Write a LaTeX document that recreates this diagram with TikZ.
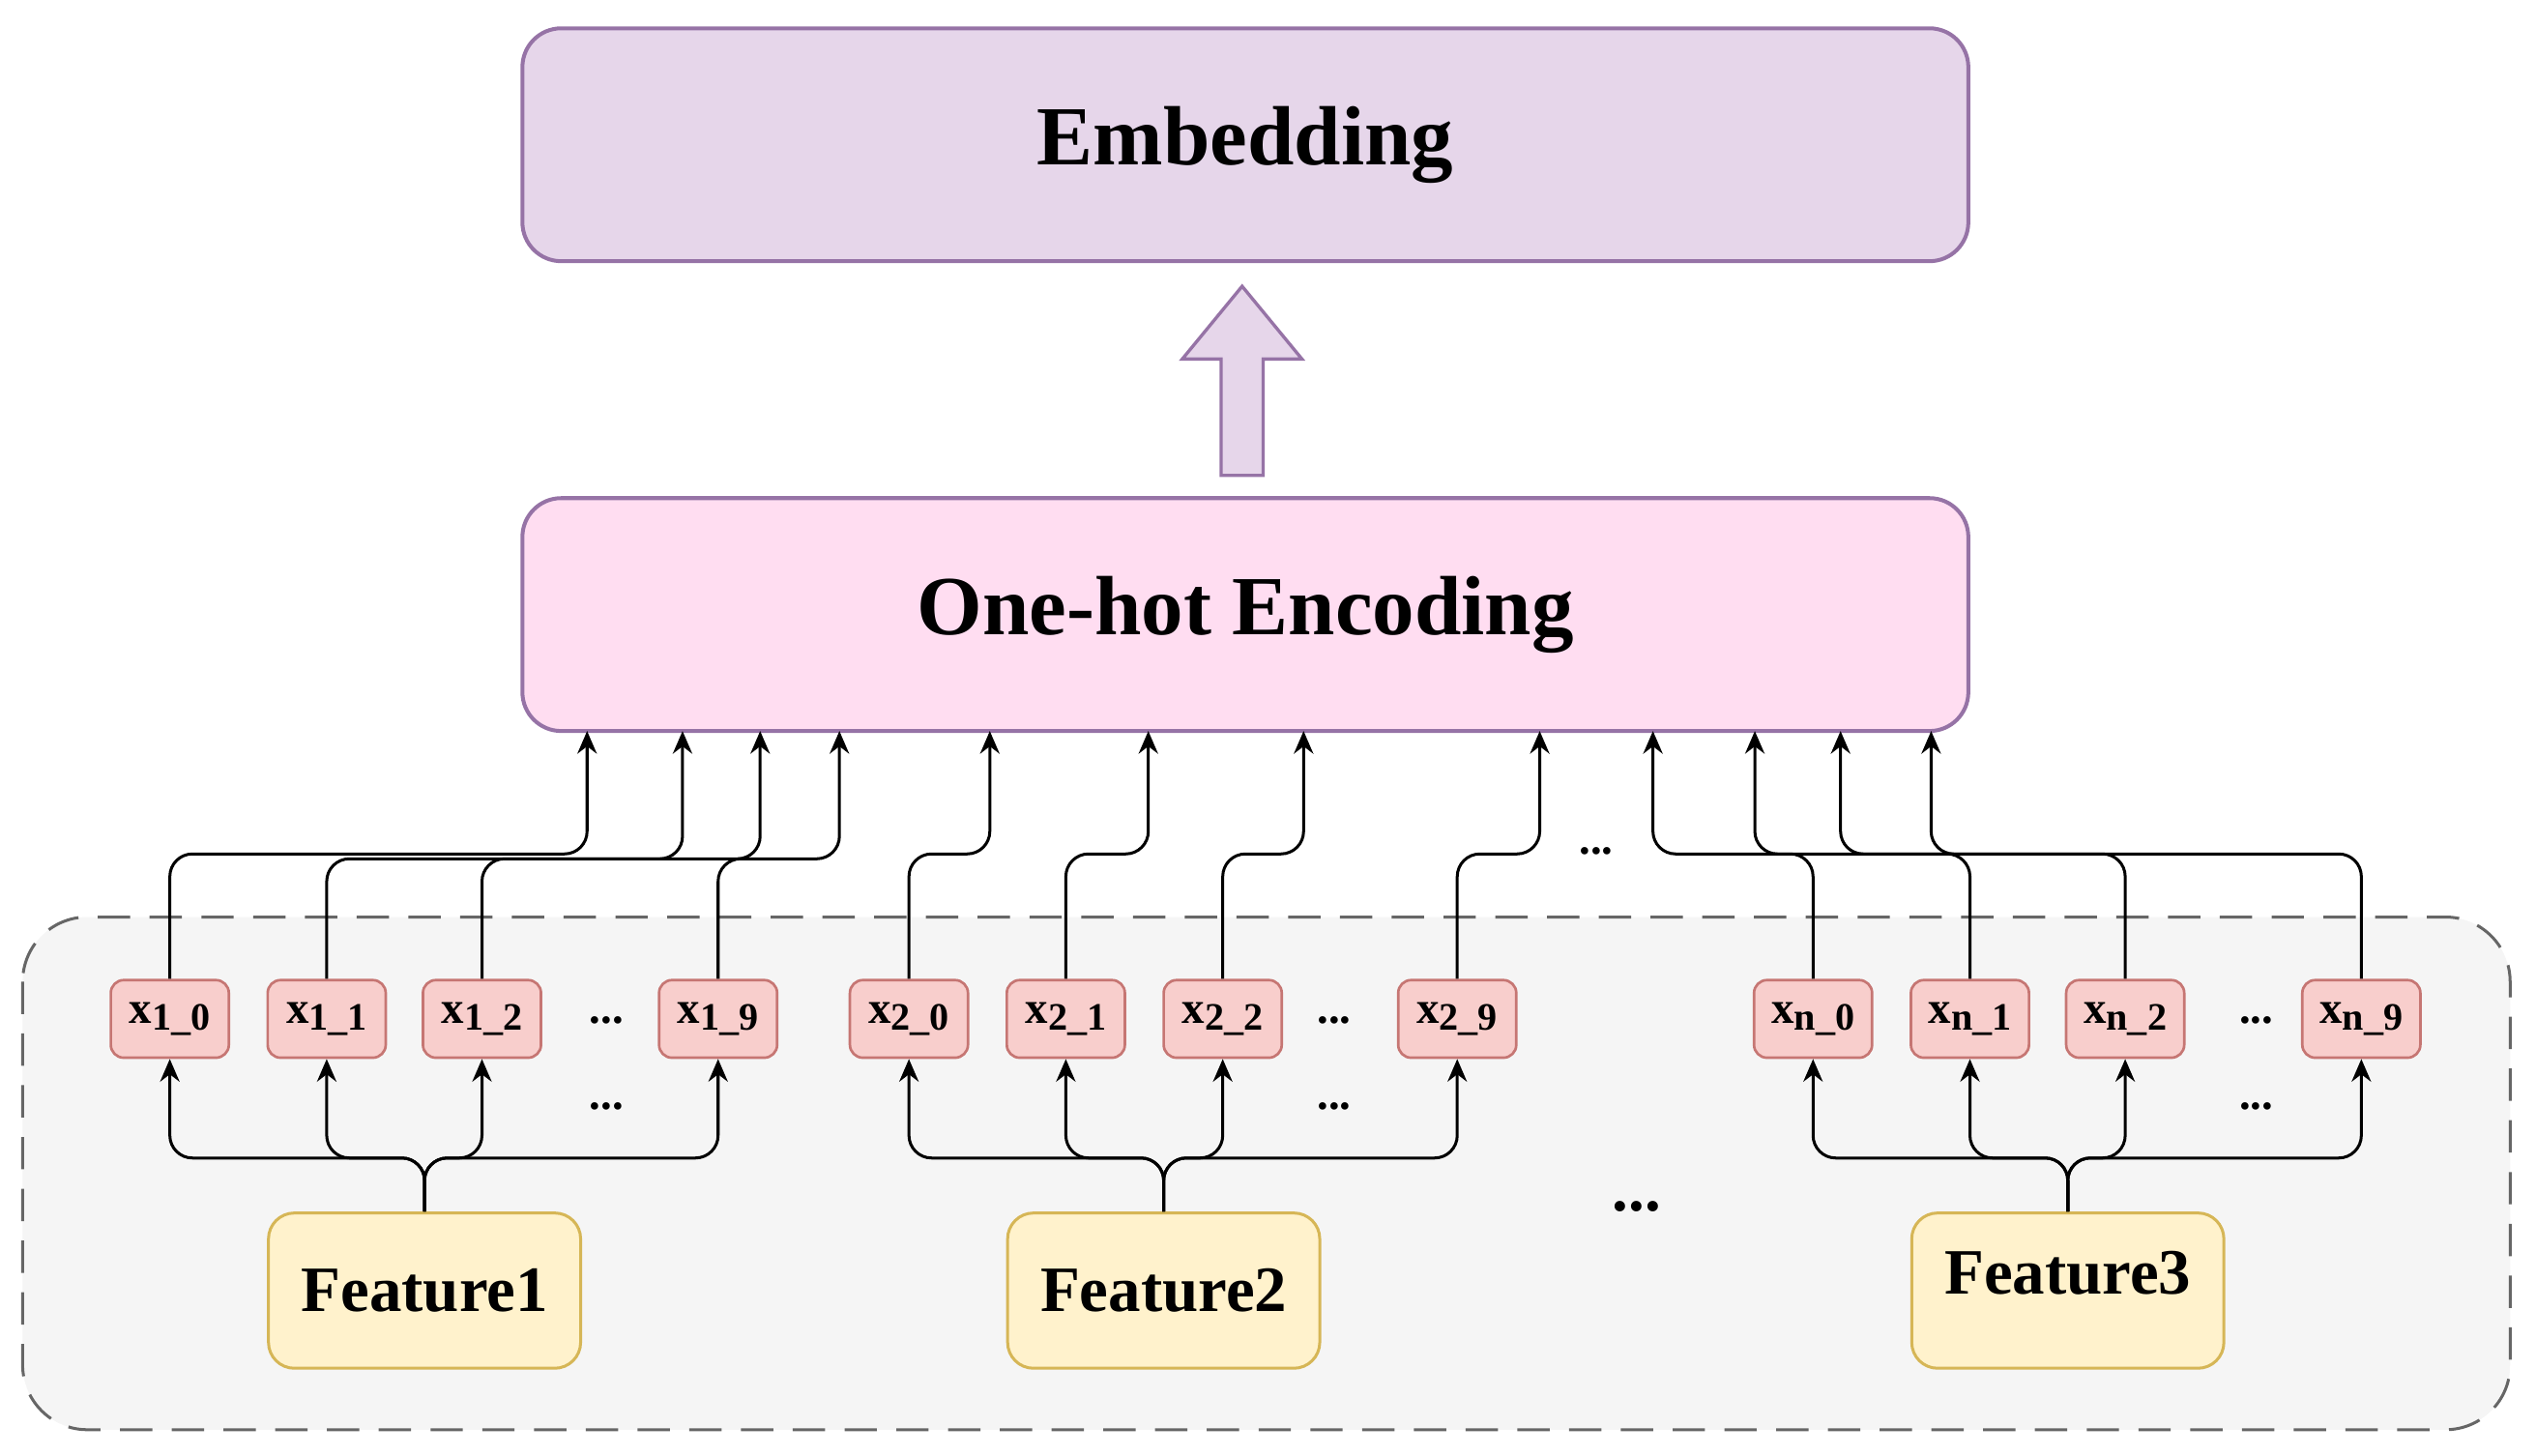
\documentclass[tikz,border=0pt]{standalone}
\usepackage{fontspec}
\setmainfont{Liberation Serif}
\usetikzlibrary{arrows.meta}
\definecolor{purb}{HTML}{9673A6}
\definecolor{embf}{HTML}{E6D6EA}
\definecolor{ohf}{HTML}{FFDDF1}
\definecolor{redf}{HTML}{F8CECC}
\definecolor{redb}{HTML}{B85450}
\definecolor{yelf}{HTML}{FFF2CC}
\definecolor{yelb}{HTML}{D6B656}
\begin{document}
\begin{tikzpicture}[x=0.5pt,y=-0.5pt,
  big/.style={draw=purb,line width=1.2pt,rounded corners=12pt,minimum width=447pt,minimum height=72pt,font=\fontsize{26}{26}\selectfont\bfseries},
  xb/.style={draw=redb!80,fill=redf,line width=0.8pt,rounded corners=4pt,minimum width=36.5pt,minimum height=24pt,inner sep=0pt,font=\fontsize{14}{14}\selectfont\bfseries},
  fb/.style={draw=yelb,fill=yelf,line width=0.9pt,rounded corners=8pt,minimum width=96.5pt,minimum height=48pt,font=\fontsize{20}{20}\selectfont\bfseries},
  arr/.style={-{Stealth[length=7pt,width=6pt]},line width=0.9pt,rounded corners=7pt},
  dots/.style={font=\fontsize{14}{14}\selectfont\bfseries}]
\useasboundingbox (0,0) rectangle (1568,900);
\newcommand{\xl}[2]{x\raisebox{-0.35ex}{\fontsize{12}{12}\selectfont #1\_#2}}
% container
\draw[fill=black!4,draw=black!60,line width=0.9pt,dash pattern=on 10pt off 6pt,rounded corners=20pt] (14,567) rectangle (1552,884);
% top boxes
\node[big,fill=embf] (emb) at (770,89.5) {Embedding};
\node[big,fill=ohf] (oh) at (770,380) {One-hot Encoding};
% big arrow
\draw[draw=purb,fill=embf,line width=1pt] (755,294) -- (755,222) -- (731,222) -- (768,177) -- (805,222) -- (781,222) -- (781,294) -- cycle;
% x boxes
\foreach \n/\a/\b/\x in {x10/1/0/105,x11/1/1/202,x12/1/2/298,x19/1/9/444,
  x20/2/0/562,x21/2/1/659,x22/2/2/756,x29/2/9/901,
  xn0/n/0/1121,xn1/n/1/1218,xn2/n/2/1314,xn9/n/9/1460}
  \node[xb] (\n) at (\x,630) {\xl{\a}{\b}};
\foreach \x/\k in {375/a,825/b,1395/c}{
  \node[dots] (du\k) at (\x,631) {...};
  \node[dots] (dl\k) at (\x,684) {...};}
\node[dots] (dtop) at (987,526) {...};
\node[dots,font=\fontsize{20}{20}\selectfont\bfseries] (dmid) at (1012,746) {...};
% features
\node[fb] (f1) at (262.5,798) {Feature1};
\node[fb] (f2) at (719.5,798) {Feature2};
\node[fb] (f3) at (1278.5,798) {\raisebox{1.2ex}{Feature3}};
% lower arrows
\foreach \f/\xs in {f1/{x10,x11,x12,x19},f2/{x20,x21,x22,x29},f3/{xn0,xn1,xn2,xn9}}
  \foreach \t in \xs
    \draw[arr] (\f.north) -- (\f.north |- 0,716) -| (\t.south);
% upper arrows
\foreach \s/\tx/\ly in {x10/363/528,x11/422/531,x12/470/531,x19/519/531,
  x20/612/528,x21/710/528,x22/806/528,x29/952/528,
  xn0/1022/528,xn1/1085/528,xn2/1138/528,xn9/1194/528}{
  \coordinate (t\s) at (\tx,452);
  \draw[arr] (\s.north) -- (\s.north |- 0,\ly) -| (t\s);}
\end{tikzpicture}
\end{document}
